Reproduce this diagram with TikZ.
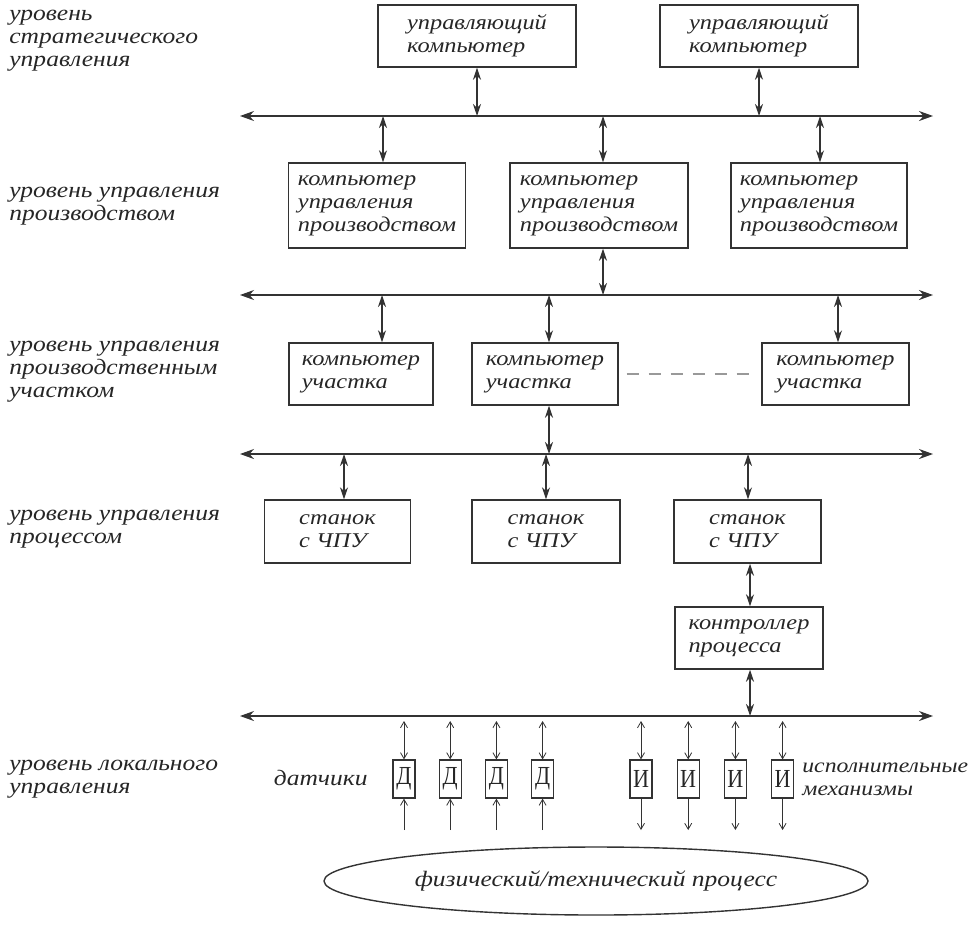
\documentclass[tikz,border=0pt]{standalone}
\usepackage{fontspec}
\setmainfont{Liberation Serif}[FakeStretch=1.16]
\newfontfamily\plainfont{Liberation Serif}[FakeStretch=0.85]
\usetikzlibrary{arrows.meta, positioning, shapes.geometric}

\begin{document}
\begin{tikzpicture}[x=0.5pt, y=-0.5pt,
    block/.style={rectangle, draw=black!80, line width=0.7pt, align=left,
                  inner sep=0pt, text=black!85,
                  font=\itshape\fontsize{10.5}{11.5}\selectfont},
    unit/.style={rectangle, draw=black!80, line width=0.6pt, inner sep=0pt,
                 minimum width=11pt, minimum height=19pt, text=black!85,
                 font=\plainfont\fontsize{13}{13}\selectfont},
    level/.style={anchor=west, align=left, inner sep=0pt, text=black!85,
                  font=\itshape\fontsize{11}{11.5}\selectfont},
    bus/.style={{Stealth[length=7pt, width=5pt]}-{Stealth[length=7pt, width=5pt]},
                line width=0.7pt, draw=black!80},
    link/.style={{Stealth[length=6pt, width=4pt]}-{Stealth[length=6pt, width=4pt]},
                 line width=0.7pt, draw=black!80},
    wire/.style={line width=0.4pt, draw=black!80}
]
\useasboundingbox (0,0) rectangle (978,928);

% Levels
\node[level] (lvl1) at (9,41) {уровень\\стратегического\\управления};
\node[level] (lvl2) at (9,206) {уровень управления\\производством};
\node[level] (lvl3) at (9,372) {уровень управления\\производственным\\участком};
\node[level] (lvl4) at (9,529) {уровень управления\\процессом};
\node[level] (lvl5) at (9,779) {уровень локального\\управления};

% Buses
\coordinate (bus1w) at (240,116); \coordinate (bus1e) at (933,116);
\coordinate (bus2w) at (240,295); \coordinate (bus2e) at (933,295);
\coordinate (bus3w) at (240,454); \coordinate (bus3e) at (933,454);
\coordinate (bus4w) at (240,716); \coordinate (bus4e) at (933,716);
\draw[bus] (bus1w) -- (bus1e);
\draw[bus] (bus2w) -- (bus2e);
\draw[bus] (bus3w) -- (bus3e);
\draw[bus] (bus4w) -- (bus4e);

% Strategic level
\node[block, minimum width=99pt, minimum height=31pt] (mgr1) at (477,36) {управляющий\\компьютер};
\node[block, minimum width=99pt, minimum height=31pt] (mgr2) at (759,36) {управляющий\\компьютер};

% Production level
\node[block, minimum width=88.5pt, minimum height=42.5pt] (prod1) at (377,205.5) {компьютер\\управления\\производством};
\node[block, minimum width=89pt, minimum height=42.5pt] (prod2) at (599,205.5) {компьютер\\управления\\производством};
\node[block, minimum width=88pt, minimum height=42.5pt] (prod3) at (819,205.5) {компьютер\\управления\\производством};

% Section level
\node[block, minimum width=72pt, minimum height=31pt] (sec1) at (361,374) {компьютер\\участка};
\node[block, minimum width=73pt, minimum height=31pt] (sec2) at (545,374) {компьютер\\участка};
\node[block, minimum width=73.5pt, minimum height=31pt] (sec3) at (835.5,374) {компьютер\\участка};
\draw[black!40, line width=0.6pt, dash pattern=on 6pt off 5pt, shorten <=4pt, shorten >=5pt] (sec2) -- (sec3);

% Process level
\node[block, minimum width=73pt, minimum height=31.5pt] (cnc1) at (337.5,531.5) {станок\\с ЧПУ};
\node[block, minimum width=74pt, minimum height=31.5pt] (cnc2) at (546,531.5) {станок\\с ЧПУ};
\node[block, minimum width=73.5pt, minimum height=31.5pt] (cnc3) at (747.5,531.5) {станок\\с ЧПУ};
\node[block, minimum width=74pt, minimum height=31pt] (plc) at (749,638) {контроллер\\процесса};

% Taps on the buses
\coordinate (t1a) at (477,116); \coordinate (t1b) at (759,116);
\coordinate (t1c) at (383,116); \coordinate (t1d) at (603,116); \coordinate (t1e) at (820,116);
\coordinate (t2a) at (603,295);
\coordinate (t2b) at (382,295); \coordinate (t2c) at (549,295); \coordinate (t2d) at (838,295);
\coordinate (t3a) at (549,454);
\coordinate (t3b) at (344,454); \coordinate (t3c) at (546,454); \coordinate (t3d) at (748,454);
\coordinate (t4a) at (750,716);

% Links
\draw[link] (mgr1.south -| t1a) -- (t1a);
\draw[link] (mgr2.south -| t1b) -- (t1b);
\draw[link] (t1c) -- (prod1.north -| t1c);
\draw[link] (t1d) -- (prod2.north -| t1d);
\draw[link] (t1e) -- (prod3.north -| t1e);
\draw[link] (prod2.south -| t2a) -- (t2a);
\draw[link] (t2b) -- (sec1.north -| t2b);
\draw[link] (t2c) -- (sec2.north -| t2c);
\draw[link] (t2d) -- (sec3.north -| t2d);
\draw[link] (sec2.south -| t3a) -- (t3a);
\draw[link] (t3b) -- (cnc1.north -| t3b);
\draw[link] (t3c) -- (cnc2.north -| t3c);
\draw[link] (t3d) -- (cnc3.north -| t3d);
\draw[link] (cnc3.south -| t4a) -- (plc.north -| t4a);
\draw[link] (plc.south -| t4a) -- (t4a);

% Local level
\node[unit] (d1) at (404,779) {Д};
\node[unit, right=11.5pt of d1] (d2) {Д};
\node[unit, right=11.5pt of d2] (d3) {Д};
\node[unit, right=11.5pt of d3] (d4) {Д};
\node[unit] (a1) at (641,779) {И};
\node[unit, right=12pt of a1] (a2) {И};
\node[unit, right=12pt of a2] (a3) {И};
\node[unit, right=12pt of a3] (a4) {И};
\node[level, anchor=east] (sens) at (368,778) {датчики};
\node[level, font=\itshape\fontsize{10.2}{11.5}\selectfont] (acts) at (802,779) {исполнительные\\механизмы};

\coordinate (up) at (0,721);
\coordinate (low) at (0,830);
\foreach \u in {d1,d2,d3,d4,a1,a2,a3,a4}
  \draw[wire, {Straight Barb[length=3pt, width=3.5pt]}-{Straight Barb[length=3pt, width=3.5pt]}] (\u.north |- up) -- (\u.north);
\foreach \u in {d1,d2,d3,d4}
  \draw[wire, -{Straight Barb[length=3pt, width=3.5pt]}] (\u.south |- low) -- (\u.south);
\foreach \u in {a1,a2,a3,a4}
  \draw[wire, -{Straight Barb[length=3pt, width=3.5pt]}] (\u.south) -- (\u.south |- low);

% Physical process
\node[ellipse, draw=black!80, line width=0.7pt, minimum width=272pt, minimum height=34pt,
      inner sep=0pt, text=black!85, font=\itshape\fontsize{11}{11.5}\selectfont] (proc) at (596,881) {физический/технический процесс};

\end{tikzpicture}
\end{document}
